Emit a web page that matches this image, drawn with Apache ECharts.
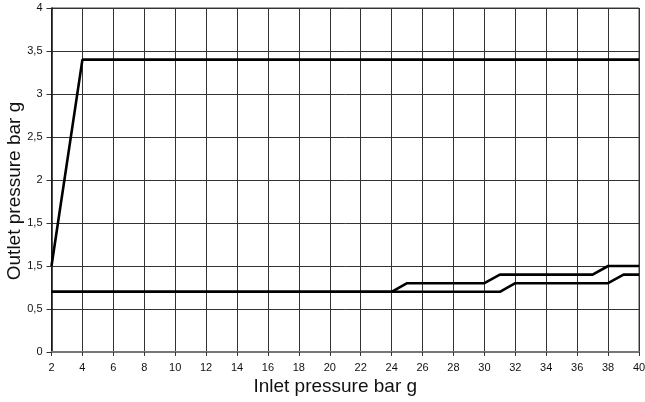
<!DOCTYPE html>
<html>
<head>
<meta charset="utf-8">
<script src="https://cdn.jsdelivr.net/npm/echarts@6/dist/echarts.min.js"></script>
<style>
  html, body { margin: 0; padding: 0; background: #fff; }
  #chart { width: 645px; height: 402px; }
</style>
</head>
<body>
<div id="chart"></div>
<script>
  // regulator curves, [inlet, outlet] pairs
  var mainInlet = [2, 4, 40]
  var mainOutlet = [1, 3.4, 3.4]
  var lowAInlet = [2, 24, 25, 30, 31, 37, 38, 40]
  var lowAOutlet = [0.7, 0.7, 0.8, 0.8, 0.9, 0.9, 1.0, 1.0]
  var lowBInlet = [2, 31, 32, 38, 39, 40]
  var lowBOutlet = [0.7, 0.7, 0.8, 0.8, 0.9, 0.9]
  // y tick labels as printed on the original (it has 1,5 twice)
  var yTickLabels = ['0', '0,5', '1,5', '1,5', '2', '2,5', '3', '3,5', '4']

  function pairs(xs, ys) {
    return xs.map(function (x, i) { return [x, ys[i]] })
  }

  function curve(name, xs, ys) {
    return {
      name: name,
      type: 'line',
      data: pairs(xs, ys),
      symbol: 'none',
      lineStyle: { color: '#000', width: 2.6 },
      z: 5
    }
  }

  var chart = echarts.init(document.getElementById('chart'), null, { renderer: 'canvas' })
  chart.setOption({
    animation: false,
    textStyle: { fontFamily: 'Liberation Sans' },
    grid: {
      left: 51.5, right: 6, top: 8, bottom: 50,
      containLabel: false, outerBoundsMode: 'none',
      show: true, borderColor: '#444', borderWidth: 1
    },
    xAxis: {
      type: 'value',
      min: 2,
      max: 40,
      interval: 2,
      name: 'Inlet pressure bar g',
      nameLocation: 'middle',
      nameGap: 25,
      nameMoveOverlap: false,
      nameTextStyle: { fontSize: 19, color: '#111', padding: [0, 20, 0, 0] },
      axisLine: { show: true, onZero: false, lineStyle: { color: '#777', width: 2 } },
      axisTick: { show: true, length: 4, lineStyle: { color: '#333' } },
      axisLabel: { fontSize: 11, color: '#111', margin: 10 },
      splitLine: { show: true, lineStyle: { color: '#333', width: 1 } }
    },
    yAxis: {
      type: 'value',
      min: 0,
      max: 4,
      interval: 0.5,
      name: 'Outlet pressure bar g',
      nameLocation: 'middle',
      nameGap: 27,
      nameMoveOverlap: false,
      nameTextStyle: { fontSize: 19, color: '#111', padding: [0, 22, 0, 0] },
      axisLine: { show: true, lineStyle: { color: '#111', width: 1.5 } },
      axisTick: { show: true, length: 5, lineStyle: { color: '#333' } },
      axisLabel: {
        fontSize: 11,
        color: '#111',
        margin: 9,
        formatter: function (v) {
          var i = Math.round(v / 0.5)
          return yTickLabels[i] !== undefined ? yTickLabels[i] : ''
        }
      },
      splitLine: { show: true, lineStyle: { color: '#333', width: 1 } }
    },
    series: [
      curve('main', mainInlet, mainOutlet),
      curve('lowA', lowAInlet, lowAOutlet),
      curve('lowB', lowBInlet, lowBOutlet)
    ]
  })
</script>
</body>
</html>
